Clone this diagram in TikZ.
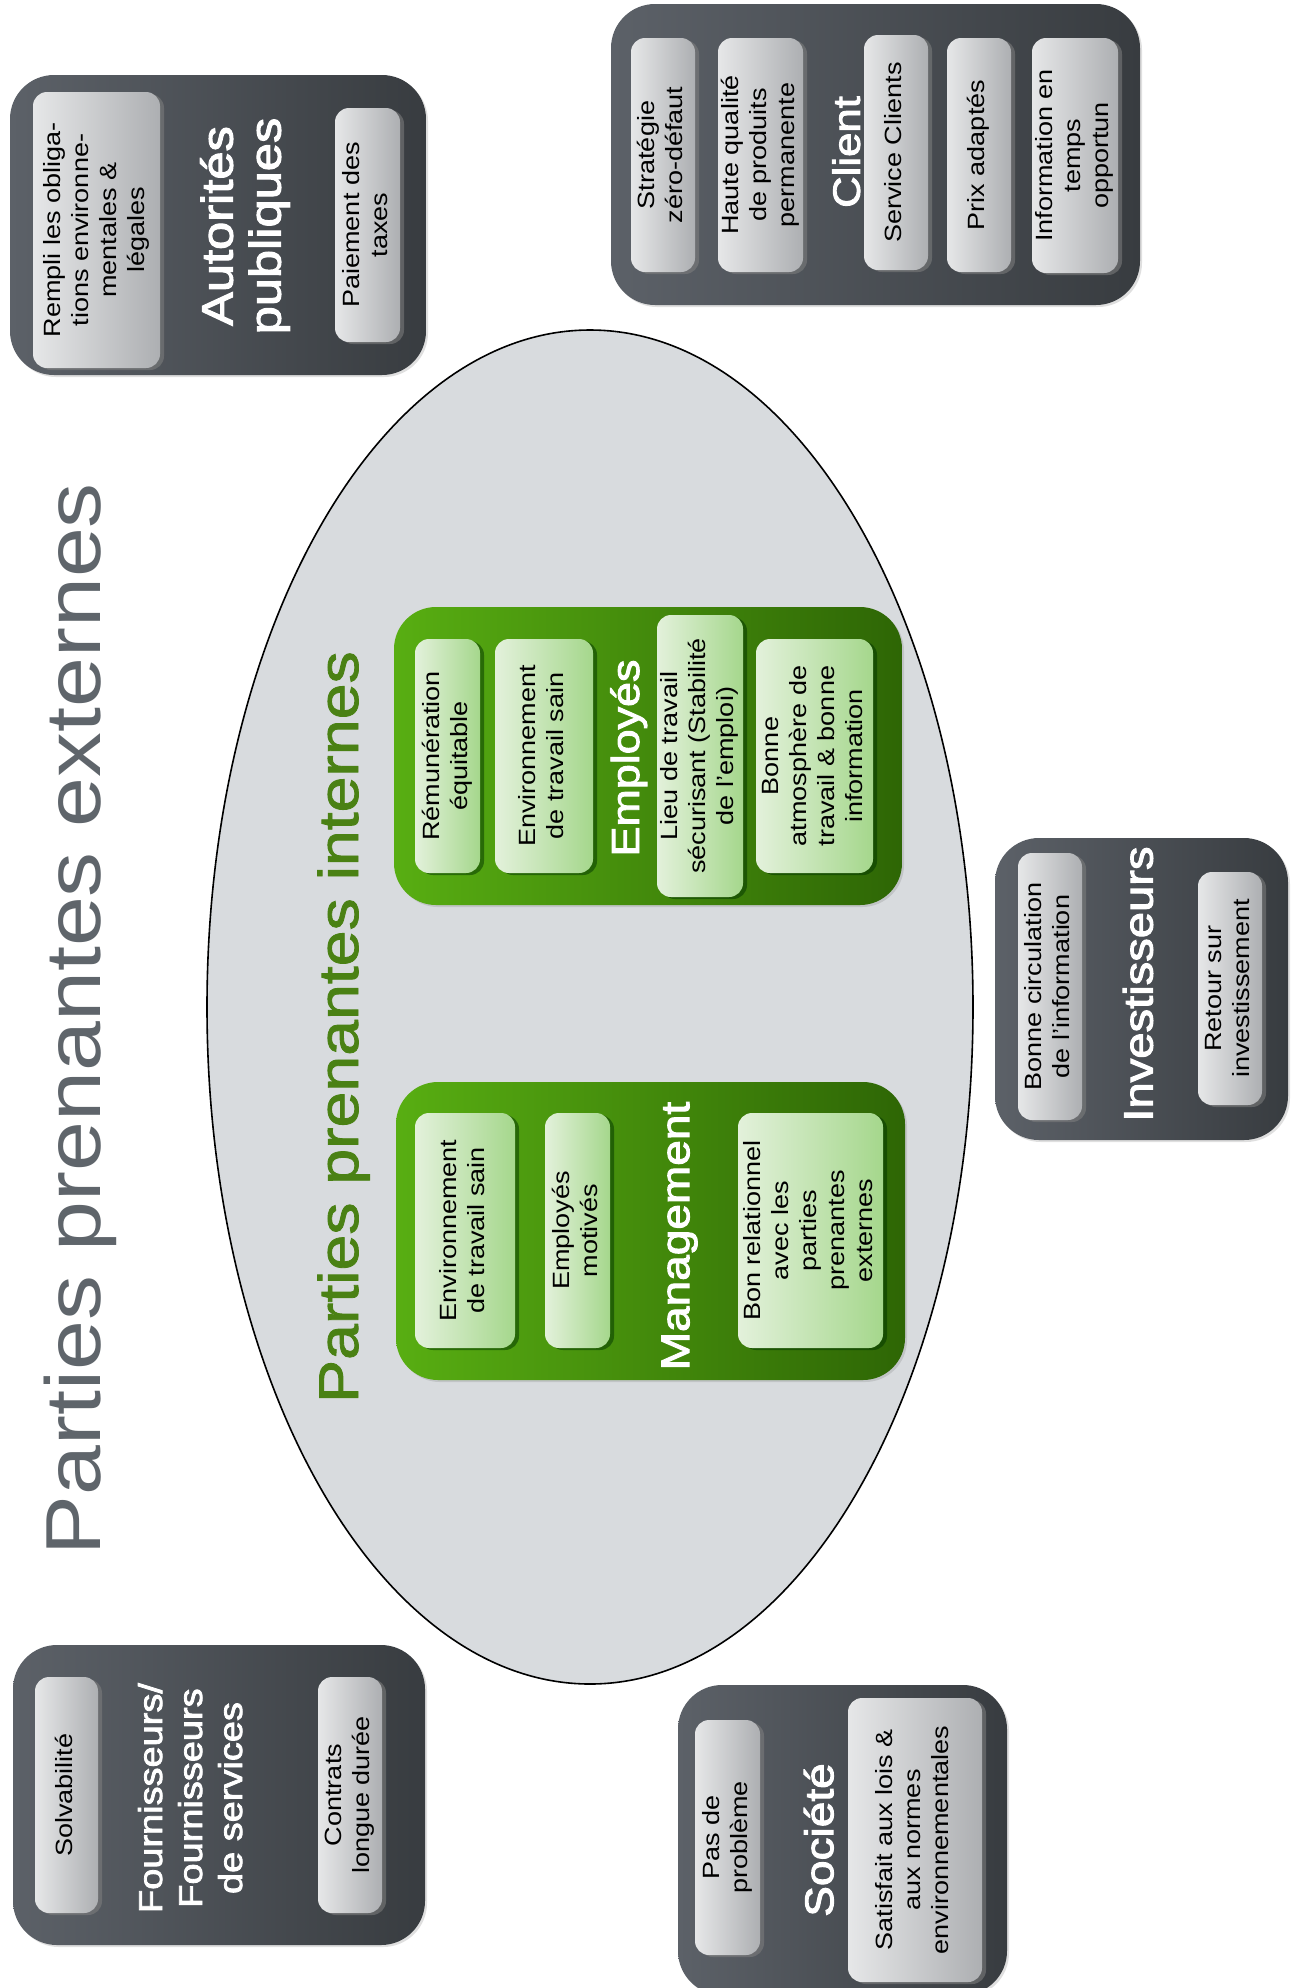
\documentclass[tikz,border=0pt]{standalone}
\usepackage{fontspec}
\setmainfont{Liberation Sans}[FakeStretch=1.15]
\newfontfamily\tfont{Liberation Sans}[FakeStretch=1.15, FakeBold=2.5]
\newfontfamily\gfont{Liberation Sans}[FakeStretch=1.15, FakeBold=1.5]
\usepackage{graphicx}
\usetikzlibrary{shapes.geometric,shadows}
\definecolor{dkL}{HTML}{5C6168}
\definecolor{dkR}{HTML}{383C40}
\definecolor{gyL}{HTML}{E6E7E8}
\definecolor{gyR}{HTML}{ADAFB2}
\definecolor{gnL}{HTML}{58AE12}
\definecolor{gnR}{HTML}{2E6605}
\definecolor{lgL}{HTML}{E3F1DB}
\definecolor{lgR}{HTML}{A5D78C}
\definecolor{ellF}{HTML}{D8DBDE}
\definecolor{bigT}{HTML}{5F656B}
\definecolor{grT}{HTML}{4A8114}
\newcommand{\rt}[1]{\rotatebox{90}{\begin{tabular}{@{}c@{}}#1\end{tabular}}}
\newcommand{\bx}[7]{\node[#2, minimum width={(#5-#3)*0.5pt}, minimum height={(#6-#4)*0.5pt}] (#1) at ({(#3+#5)/2},{(#4+#6)/2}) {#7};}
\tikzset{
  outerbox/.style={rectangle, rounded corners=22pt, left color=dkL, right color=dkR, inner sep=0pt,
    drop shadow={opacity=0.25, shadow xshift=1pt, shadow yshift=-1pt}},
  graybox/.style={rectangle, rounded corners=7pt, left color=gyL, right color=gyR, inner sep=0pt,
    font=\fontsize{11.75}{14}\selectfont, text=black,
    drop shadow={opacity=0.55, shadow xshift=2pt, shadow yshift=-1pt}},
  greenbox/.style={rectangle, rounded corners=21pt, left color=gnL, right color=gnR, inner sep=0pt,
    drop shadow={opacity=0.25, shadow xshift=1pt, shadow yshift=-1pt}},
  lgbox/.style={rectangle, rounded corners=7pt, left color=lgL, right color=lgR, inner sep=0pt,
    font=\fontsize{11.75}{14}\selectfont, text=black,
    drop shadow={opacity=0.5, shadow xshift=2pt, shadow yshift=-1pt, fill=black!80!green}},
  ttl/.style={text=white, inner sep=0pt},
}
\begin{document}
\begin{tikzpicture}[x=0.5pt, y=-0.5pt]
\useasboundingbox (0,0) rectangle (1295,1988);
\fill[white] (0,0) rectangle (1295,1988);

% ellipse of internal stakeholders
\node[ellipse, draw=black, line width=0.8pt, fill=ellF, minimum width=383pt, minimum height=677pt, inner sep=0pt] (ell) at (590,1007) {};

% titles
\node[rotate=90, anchor=base, text=bigT, font=\fontsize{39}{44}\selectfont, inner sep=0pt] (ext) at (100,1019) {Parties prenantes externes};
\node[rotate=90, anchor=base, text=grT, font={\gfont\fontsize{28}{32}\selectfont}, inner sep=0pt] (int) at (358,1027) {Parties prenantes internes};

% Autorites publiques
\bx{aut}{outerbox}{10}{75}{426}{375}{}
\bx{aut1}{graybox}{33}{92}{160}{368}{\rt{Rempli les obliga-\\tions environne-\\mentales \&\\légales}}
\bx{aut2}{graybox}{335}{108}{400}{342}{\rt{Paiement des\\taxes}}
\node[ttl, font={\tfont\fontsize{22}{24}\selectfont}] (autT) at (247,226) {\rt{Autorités\\publiques}};

% Client
\bx{cli}{outerbox}{611}{4}{1140}{305}{}
\bx{cli1}{graybox}{631}{38}{695}{272}{\rt{Stratégie\\zéro-défaut}}
\bx{cli2}{graybox}{718}{38}{803}{272}{\rt{Haute qualité\\de produits\\permanente}}
\node[ttl, font={\tfont\fontsize{19}{22}\selectfont}] (cliT) at (851,152) {\rt{Client}};
\bx{cli3}{graybox}{864}{35}{928}{270}{\rt{Service Clients}}
\bx{cli4}{graybox}{947}{38}{1011}{272}{\rt{Prix adaptés}}
\bx{cli5}{graybox}{1032}{38}{1118}{273}{\rt{Information en\\temps\\opportun}}

% Employes
\bx{emp}{greenbox}{394}{607}{902}{905}{}
\bx{emp1}{lgbox}{415}{639}{480}{873}{\rt{Rémunération\\équitable}}
\bx{emp2}{lgbox}{495}{639}{593}{873}{\rt{Environnement\\de travail sain}}
\node[ttl, font={\tfont\fontsize{19.5}{22.5}\selectfont}] (empT) at (630,758) {\rt{Employés}};
\bx{emp3}{lgbox}{657}{615}{743}{897}{\rt{Lieu de travail\\sécurisant (Stabilité\\de l’emploi)}}
\bx{emp4}{lgbox}{756}{639}{873}{873}{\rt{Bonne\\atmosphère de\\travail \& bonne\\information}}

% Management
\bx{man}{greenbox}{396}{1082}{905}{1380}{}
\bx{man1}{lgbox}{415}{1113}{515}{1348}{\rt{Environnement\\de travail sain}}
\bx{man2}{lgbox}{545}{1113}{610}{1348}{\rt{Employés\\motivés}}
\node[ttl, font={\tfont\fontsize{20}{23}\selectfont}] (manT) at (680,1236) {\rt{Management}};
\bx{man3}{lgbox}{738}{1113}{883}{1348}{\rt{Bon relationnel\\avec les\\parties\\prenantes\\externes}}

% Investisseurs
\bx{inv}{outerbox}{995}{838}{1288}{1140}{}
\bx{inv1}{graybox}{1018}{853}{1082}{1120}{\rt{Bonne circulation\\de l’information}}
\node[ttl, font={\tfont\fontsize{20.5}{24}\selectfont}] (invT) at (1143,984) {\rt{Investisseurs}};
\bx{inv2}{graybox}{1198}{872}{1262}{1105}{\rt{Retour sur\\investissement}}

% Fournisseurs
\bx{fou}{outerbox}{13}{1645}{425}{1945}{}
\bx{fou1}{graybox}{35}{1677}{98}{1913}{\rt{Solvabilité}}
\node[ttl, font={\tfont\fontsize{16.5}{20}\selectfont}] (fouT) at (194,1798) {\rt{Fournisseurs/\\Fournisseurs\\de services}};
\bx{fou2}{graybox}{318}{1677}{382}{1913}{\rt{Contrats\\longue durée}}

% Societe
\bx{soc}{outerbox}{678}{1685}{1007}{1995}{}
\bx{soc1}{graybox}{695}{1720}{760}{1955}{\rt{Pas de\\problème}}
\node[ttl, font={\tfont\fontsize{20}{23}\selectfont}] (socT) at (824,1840) {\rt{Société}};
\bx{soc2}{graybox}{848}{1698}{982}{1982}{\rt{Satisfait aux lois \&\\aux normes\\environnementales}}
\end{tikzpicture}
\end{document}
